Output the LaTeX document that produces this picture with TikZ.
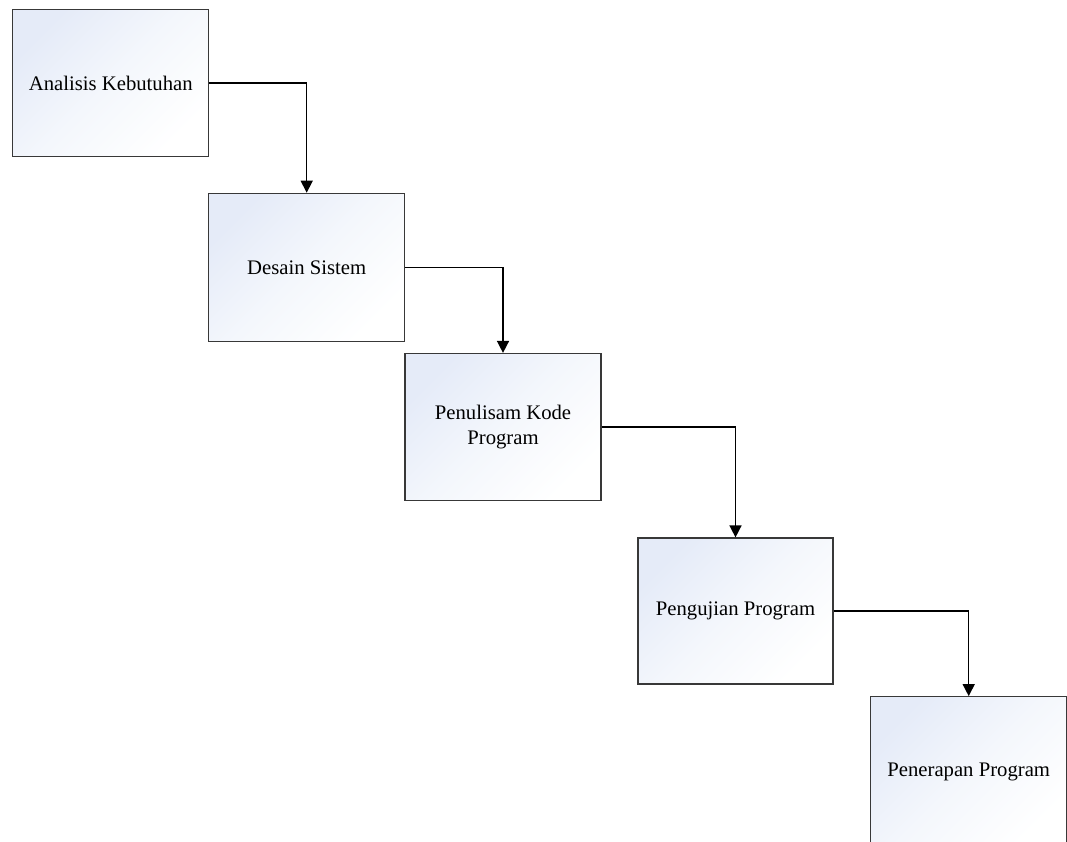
\documentclass[tikz,border=0pt]{standalone}
\usepackage{fontspec}
\setmainfont{Liberation Serif}
\usetikzlibrary{arrows.meta}
\definecolor{boxtl}{RGB}{229,235,248}
\definecolor{boxmid}{RGB}{244,247,252}
\begin{document}
\begin{tikzpicture}[x=1pt,y=-1pt,
  stage/.style={rectangle, draw=black!78, line width=1.2pt, inner sep=0pt,
    top color=boxtl, bottom color=white, middle color=boxmid, shading angle=45,
    minimum width=196pt, minimum height=147pt, align=center,
    font=\fontsize{20.7}{24.3}\selectfont},
  flow/.style={line width=1.5pt, -{Triangle[width=12pt,length=12pt]}}]
\useasboundingbox (0,0) rectangle (1067,842);
\clip (0,0) rectangle (1067,842);
\node[stage] (b1) at (110.8,83) {Analisis Kebutuhan};
\node[stage, minimum height=148pt] (b2) at (306.7,267.3) {Desain Sistem};
\node[stage] (b3) at (503,427) {Penulisam Kode\\Program};
\node[stage, minimum width=195pt, minimum height=146pt] (b4) at (735.5,611) {Pengujian Program};
\node[stage, minimum height=150pt] (b5) at (968.7,771.7) {Penerapan Program};
\draw[flow] (b1.east) -| (b2.north);
\draw[flow] (b2.east) -| (b3.north);
\draw[flow] (b3.east) -| (b4.north);
\draw[flow] (b4.east) -| (b5.north);
\end{tikzpicture}
\end{document}
